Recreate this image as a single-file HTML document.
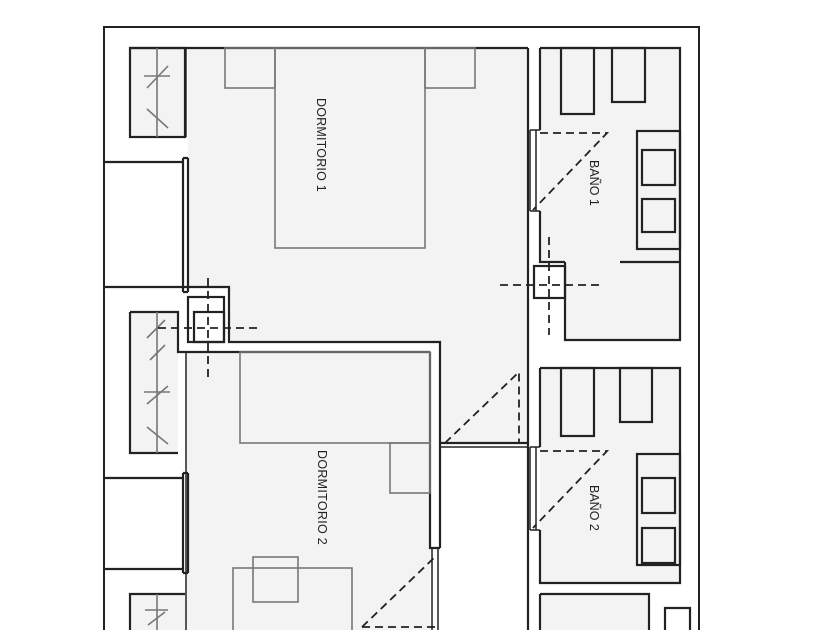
<!DOCTYPE html>
<html><head><meta charset="utf-8"><style>
html,body{margin:0;padding:0;background:#fff}
svg{display:block}
text{font-family:"Liberation Sans",sans-serif;font-size:12.5px;fill:#222}
</style></head><body>
<svg width="840" height="630" viewBox="0 0 840 630" xmlns="http://www.w3.org/2000/svg">
<rect width="840" height="630" fill="#fff"/>
<path d="M104,632 V27 H699 V632" fill="none" stroke="#222" stroke-width="2"/>

<g fill="#f3f3f3">
<path d="M188,48 H528 V443 H440 V342 H229 V287 H188 Z"/>
<rect x="186" y="352" width="244" height="280"/>
<rect x="540" y="48" width="140" height="214"/>
<rect x="565" y="262" width="115" height="78"/>
<rect x="540" y="368" width="140" height="215"/>
<rect x="540" y="594" width="109" height="40"/>
<rect x="130" y="48" width="55" height="89"/>
<rect x="130" y="312" width="48" height="141"/>
<rect x="130" y="594" width="55" height="40"/>
</g>

<g fill="none" stroke="#222" stroke-width="2.2">
<path d="M130,48 H528"/>
<rect x="130" y="48" width="55" height="89"/>
<path d="M130,312 H178 V352 H430"/>
<path d="M130,312 V453 H178"/>
<path d="M130,632 V594 H185"/>
<path d="M104,162 H183"/>
<path d="M104,287 H229 V342 H440 V548"/>
<path d="M104,478 H183"/>
<path d="M104,569 H183"/>
<path d="M183,158 V292 M188,158 V292 M183,158 H188 M183,292 H188"/>
<path d="M183,473 V573 M188,473 V573 M183,473 H188 M183,573 H188"/>
<path d="M186,48 V137 M186,352 V632" stroke-width="1.5"/>
<path d="M430,352 V548 H440"/>
<path d="M432,548 V632 M438,548 V632" stroke-width="1.5"/>
<rect x="188" y="297" width="36" height="45"/>
<rect x="194" y="312" width="30" height="30"/>
<path d="M528,48 V443 M528,443 H440"/>
<path d="M440,447 H528" stroke-width="1.5"/>
<path d="M540,48 H680 V340 H565 V262 M680,262 H620"/>
<path d="M540,48 V130 M540,211 V262 H565"/>
<path d="M530,130 V211 M536,130 V211 M530,130 H540 M530,211 H540" stroke-width="1.5"/>
<rect x="534" y="266" width="31" height="32"/>
<rect x="561" y="48" width="33" height="66"/>
<rect x="612" y="48" width="33" height="54"/>
<rect x="637" y="131" width="43" height="118"/>
<rect x="642" y="150" width="33" height="35"/>
<rect x="642" y="199" width="33" height="33"/>
<path d="M540,368 H680 V583 H540 V530 M540,447 V368"/>
<path d="M530,447 V530 M536,447 V530 M530,447 H540 M530,530 H540" stroke-width="1.5"/>
<path d="M528,443 V632 M540,594 V632 M540,594 H649 V632"/>
<rect x="561" y="368" width="33" height="68"/>
<rect x="620" y="368" width="32" height="54"/>
<rect x="637" y="454" width="43" height="111"/>
<rect x="642" y="478" width="33" height="35"/>
<rect x="642" y="528" width="33" height="35"/>
<path d="M665,632 V608 H690 V632"/>
</g>

<g fill="none" stroke="#777" stroke-width="1.6">
<path d="M157,48 V137 M157,312 V453 M157,594 V632"/>
<rect x="225" y="48" width="50" height="40"/>
<rect x="425" y="48" width="50" height="40"/>
<rect x="275" y="48" width="150" height="200"/>
<rect x="240" y="352" width="190" height="91"/>
<rect x="390" y="443" width="40" height="50"/>
<rect x="233" y="568" width="119" height="70"/>
<rect x="253" y="557" width="45" height="45"/>
<path d="M144,76 H170 M147,88 L168,66 M147,109 L168,128"/>
<path d="M147,338 L165,320 M150,360 L165,345 M144,392 H170 M147,404 L168,386 M147,427 L168,444"/>
<path d="M145,610 H168 M148,625 L165,612"/>
</g>

<g fill="none" stroke="#222" stroke-width="1.8" stroke-dasharray="8,5">
<path d="M158,328 H258 M208,278 V378"/>
<path d="M500,285 H600 M549,237 V335"/>
<path d="M445,443 L519,372 V443"/>
<path d="M362,627 L437,555 M362,627 H437"/>
<path d="M540,133 H607 L533,210"/>
<path d="M540,451 H607 L533,528"/>
</g>

<text transform="translate(317,98) rotate(90)" font-size="13.5" letter-spacing="0.2">DORMITORIO 1</text>
<text transform="translate(318,450) rotate(90)" font-size="14" letter-spacing="0.3">DORMITORIO 2</text>
<text transform="translate(590,160) rotate(90)">BAÑO 1</text>
<text transform="translate(590,485) rotate(90)">BAÑO 2</text>
</svg>
</body></html>
